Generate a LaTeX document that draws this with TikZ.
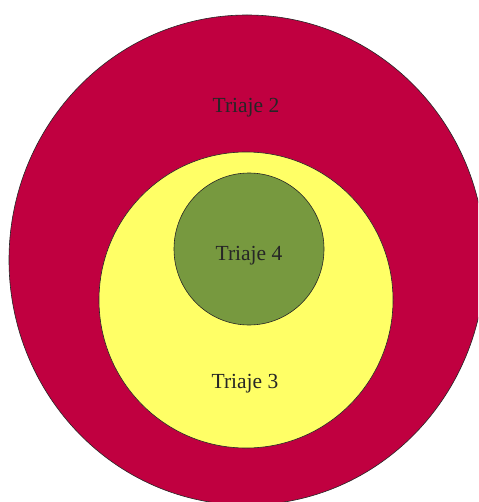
\documentclass[tikz,border=0pt]{standalone}
\usepackage{fontspec}
\setmainfont{Liberation Serif}
\usetikzlibrary{shapes.geometric}
\definecolor{triajered}{RGB}{192,0,64}
\definecolor{triajeyellow}{RGB}{255,255,102}
\definecolor{triajegreen}{RGB}{119,153,63}

\begin{document}
\begin{tikzpicture}[
		x=1pt, y=-1pt,
		% Style for the nested zones
		zone/.style={ellipse, draw=black!85, line width=0.6pt, inner sep=0pt},
		% Style for the zone labels
		zone label/.style={font=\fontsize{21.5}{24}\selectfont, text=black!85, inner sep=0pt}
		]
		
		% ==============================================================================
		% 1. FRAME
		% ==============================================================================
		\fill[white] (0,0) rectangle (478,502);
		\useasboundingbox (0,0) rectangle (478,502);
		\clip (0,0) rectangle (478,502);
		
		% ==============================================================================
		% 2. ZONES
		% ==============================================================================
		\node[zone, fill=triajered, minimum width=476pt, minimum height=490pt] (zone2) at (247,260) {};
		\node[zone, fill=triajeyellow, minimum width=294pt, minimum height=296pt] (zone3) at (246,300) {};
		\node[zone, fill=triajegreen, minimum width=150pt, minimum height=152pt] (zone4) at (249,249) {};
		
		% ==============================================================================
		% 3. LABELS
		% ==============================================================================
		\node[zone label] (label2) at (246,108) {Triaje 2};
		\node[zone label] (label4) at (249,256) {Triaje 4};
		\node[zone label] (label3) at (245,384) {Triaje 3};
	\end{tikzpicture}
\end{document}
